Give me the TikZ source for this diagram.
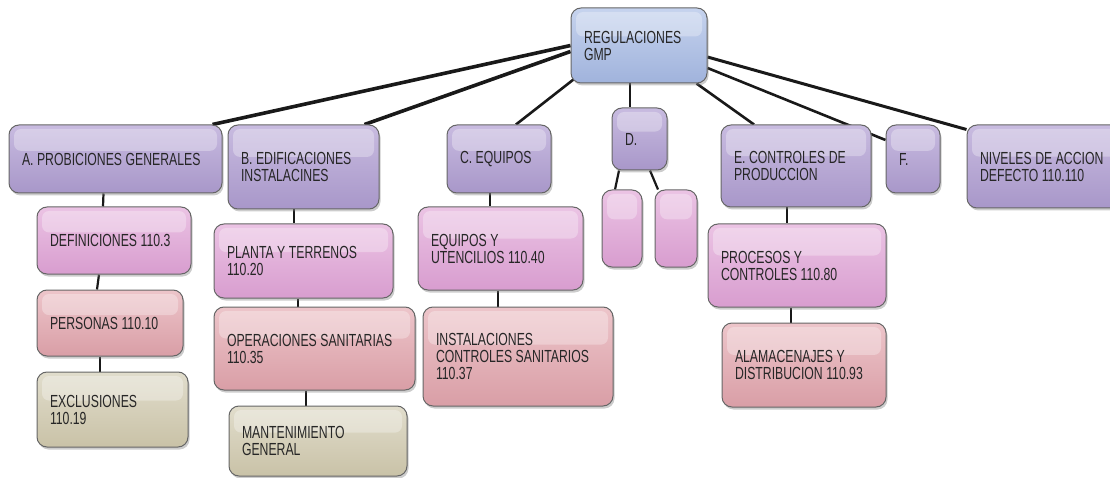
\documentclass[tikz,border=0pt]{standalone}
\usepackage{fontspec}
\setmainfont{Liberation Sans}[FakeStretch=0.70]
\usetikzlibrary{shadows,calc,backgrounds}

\definecolor{rootTop}{HTML}{C6D3EE}
\definecolor{rootBot}{HTML}{A0B3DC}
\definecolor{lilaTop}{HTML}{C8BBE0}
\definecolor{lilaBot}{HTML}{A897C9}
\definecolor{pinkTop}{HTML}{EBC3E4}
\definecolor{pinkBot}{HTML}{D89DCF}
\definecolor{rosaTop}{HTML}{EDC5CA}
\definecolor{rosaBot}{HTML}{D99EA6}
\definecolor{kakiTop}{HTML}{E1DDCC}
\definecolor{kakiBot}{HTML}{C9C2A7}

\newcommand\tightspaces{\spaceskip=3.5pt plus 1pt minus 1pt\xspaceskip=3.5pt plus 1pt minus 1pt\relax}

\tikzset{
  gbox/.style 2 args={rectangle, rounded corners=10pt, draw=black!60, line width=1pt,
    top color=#1, bottom color=#2, text=black!85, align=left,
    inner xsep=13pt, inner ysep=2pt, font=\fontsize{17.5}{17}\selectfont,
    execute at begin node=\tightspaces,
    drop shadow={shadow xshift=1.5pt, shadow yshift=-2.5pt, opacity=0.4},
    path picture={
      \fill[white, opacity=0.3, rounded corners=7pt]
        ([shift={(5pt,-4pt)}]path picture bounding box.north west) rectangle
        ([xshift=-5pt]$(path picture bounding box.north east)!0.38!(path picture bounding box.south east)$);
    }},
  rootbox/.style={gbox={rootTop}{rootBot}},
  lilabox/.style={gbox={lilaTop}{lilaBot}},
  pinkbox/.style={gbox={pinkTop}{pinkBot}},
  rosabox/.style={gbox={rosaTop}{rosaBot}},
  kakibox/.style={gbox={kakiTop}{kakiBot}},
  boxsize/.style n args={2}{minimum width=#1pt, text width=#1pt-26pt, minimum height=#2pt},
  link/.style={line width=2.2pt, black!90},
  trunk/.style={line width=3.6pt, black!90}
}

\begin{document}
\begin{tikzpicture}[x=1pt,y=-1pt]
  \useasboundingbox (0,0) rectangle (1110,478);
  \clip (0,0) rectangle (1110,478);

  % top
  \node[rootbox, boxsize={136}{75}] (reg) at (639,45.5) {REGULACIONES\\GMP};

  % first level
  \node[lilabox, boxsize={213}{68}] (gen) at (115.5,159) {A. PROBICIONES GENERALES};
  \node[lilabox, boxsize={151}{84}] (edif) at (303.5,167) {B. EDIFICACIONES\\INSTALACINES};
  \node[lilabox, boxsize={104}{68}] (equi) at (499,159) {C. EQUIPOS};
  \node[lilabox, boxsize={55}{62}] (dd) at (639.5,139) {D.};
  \node[lilabox, boxsize={150}{82}] (ctrl) at (796,166) {E. CONTROLES DE\\PRODUCCION};
  \node[lilabox, boxsize={54}{68}] (ff) at (913,159) {F.};
  \node[lilabox, boxsize={203}{83}] (niv) at (1068.5,166.5) {NIVELES DE ACCION\\DEFECTO 110.110};

  % A
  \node[pinkbox, boxsize={154}{67}] (def) at (114,240.5) {DEFINICIONES 110.3};
  \node[rosabox, boxsize={146}{66}] (per) at (110,323) {PERSONAS 110.10};
  \node[kakibox, boxsize={151}{75}] (exc) at (112.5,409.5) {EXCLUSIONES\\110.19};

  % B
  \node[pinkbox, boxsize={179}{74}] (pla) at (303.5,261) {PLANTA Y TERRENOS\\110.20};
  \node[rosabox, boxsize={201}{83}] (ope) at (314.5,348.5) {OPERACIONES SANITARIAS\\110.35};
  \node[kakibox, boxsize={178}{70}] (man) at (318,441) {MANTENIMIENTO\\GENERAL};

  % C
  \node[pinkbox, boxsize={165}{83}] (equ) at (500.5,248.5) {EQUIPOS Y\\UTENCILIOS 110.40};
  \node[rosabox, boxsize={190}{99}] (ins) at (518,356.5) {INSTALACIONES\\CONTROLES SANITARIOS\\110.37};

  % D
  \node[pinkbox, boxsize={40}{77}] (da) at (622,228.5) {};
  \node[pinkbox, boxsize={42}{77}] (db) at (676,228.5) {};

  % E
  \node[pinkbox, boxsize={178}{83}] (pro) at (797,265.5) {PROCESOS Y\\CONTROLES 110.80};
  \node[rosabox, boxsize={164}{84}] (ala) at (804,365) {ALAMACENAJES Y\\DISTRIBUCION 110.93};

  \begin{scope}[on background layer]
    \draw[trunk] (reg.west) -- ([xshift=-10pt]gen.north east);
    \draw[trunk] ([yshift=-6pt]reg.west) -- ([xshift=-15pt]edif.north east);
    \draw[link, line width=2.6pt] ([shift={(3pt,4pt)}]reg.south west) -- ([xshift=17pt]equi.north);
    \draw[link] ([xshift=-9pt]reg.south) -- ([xshift=-9.5pt]dd.north);
    \draw[link, line width=2.6pt] ([xshift=-11pt]reg.south east) -- ([xshift=-42pt]ctrl.north);
    \draw[link, line width=2.6pt] ([yshift=-22.5pt]reg.east) -- ([yshift=19pt]ff.west);
    \draw[trunk, line width=3pt] ([yshift=-11.5pt]reg.east) -- ([yshift=-5pt]niv.north west);

    \draw[link] ([xshift=-12pt]gen.south) -- ([xshift=-11pt]def.north);
    \draw[link] ([xshift=-15pt]def.south) -- ([xshift=-13pt]per.north);
    \draw[link] ([xshift=-10pt]per.south) -- ([xshift=-12.5pt]exc.north);
    \draw[link] ([xshift=-9.5pt]edif.south) -- ([xshift=-9.5pt]pla.north);
    \draw[link] ([xshift=-5.5pt]pla.south) -- ([xshift=-16.5pt]ope.north);
    \draw[link] ([xshift=-8.5pt]ope.south) -- ([xshift=-12pt]man.north);
    \draw[link] ([xshift=-9pt]equi.south) -- ([xshift=-10.5pt]equ.north);
    \draw[link] ([xshift=-2.5pt]equ.south) -- ([xshift=-20pt]ins.north);
    \draw[link] ([xshift=-20.5pt]dd.south) -- ([xshift=-7pt]da.north);
    \draw[link] ([xshift=10.5pt]dd.south) -- ([xshift=-18pt]db.north);
    \draw[link] ([xshift=-9pt]ctrl.south) -- ([xshift=-10pt]pro.north);
    \draw[link] ([xshift=-6pt]pro.south) -- ([xshift=-13pt]ala.north);
  \end{scope}
\end{tikzpicture}
\end{document}
